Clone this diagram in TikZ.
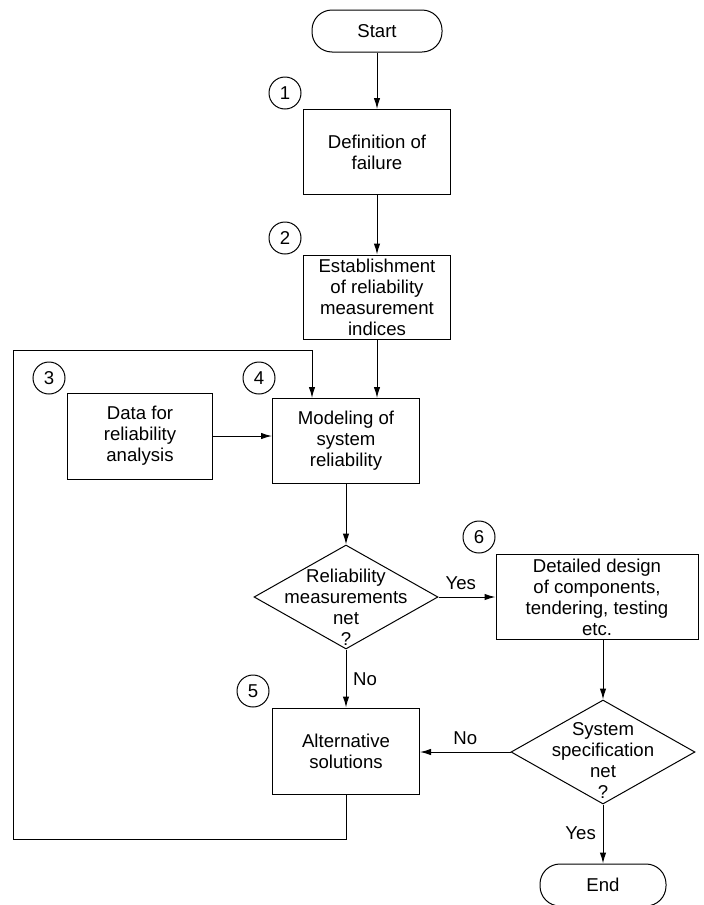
\documentclass[tikz,border=0pt]{standalone}
\usepackage{fontspec}
\setmainfont{Liberation Sans}
\usepackage{tikz}
\usetikzlibrary{arrows.meta,shapes.geometric}

\begin{document}
\begin{tikzpicture}[
  x=0.5pt, y=-0.5pt,
  every node/.style={font=\fontsize{9.3}{10.5}\selectfont},
  box/.style={draw, rectangle, minimum width=73.5pt, minimum height=42.5pt, inner sep=0pt, align=center, line width=0.5pt},
  term/.style={draw, rectangle, rounded corners=10pt, minimum height=21pt, inner sep=0pt, line width=0.5pt},
  decision/.style={draw, diamond, minimum width=92pt, minimum height=52pt, inner sep=0pt, line width=0.5pt},
  dtext/.style={align=center, inner sep=0pt},
  num/.style={draw, circle, minimum size=16pt, inner sep=0pt, line width=0.5pt},
  arrow/.style={-{Latex[length=5.5pt,width=3.2pt]}, line width=0.5pt}
]
\useasboundingbox (0,0) rectangle (703,905);
\node[term, minimum width=65pt] (start) at (377,31) {Start};
\node[box] (def) at (377,152) {Definition of\\failure};
\node[box, minimum height=42pt] (est) at (377,297) {Establishment\\of reliability\\measurement\\indices};
\node[box, minimum width=72.5pt, minimum height=43pt] (data) at (140,436) {Data for\\reliability\\analysis};
\node[box] (model) at (346,441) {Modeling of\\system\\reliability};
\node[decision] (d1) at (346,597) {};
\node[dtext] (d1t) at (346,607) {Reliability\\measurements\\net\\?};
\node[box, minimum width=101pt] (detail) at (597,597) {Detailed design\\of components,\\tendering, testing\\etc.};
\node[box, minimum height=43pt] (alt) at (346,751) {Alternative\\solutions};
\node[decision] (d2) at (603,752) {};
\node[dtext] (d2t) at (603,760) {System\\specification\\net\\?};
\node[term, minimum width=63pt] (end) at (603,885) {End};

\node[num] (n1) at (285,93) {1};
\node[num] (n2) at (285,238) {2};
\node[num] (n3) at (49,378) {3};
\node[num] (n4) at (259,378) {4};
\node[num] (n5) at (253,691) {5};
\node[num] (n6) at (479,537) {6};

\coordinate (loopB) at (346,839);
\coordinate (loopL) at (13,839);
\coordinate (loopT) at (13,350);

\draw[arrow] (start) -- (def);
\draw[arrow] (def) -- (est);
\draw[arrow] (est.south) -- (est.south |- model.north);
\draw[arrow] (data.east) -- (data.east -| model.west);
\draw[arrow] (model) -- (d1);
\draw[arrow] (d1.east) -- node[pos=0.39, above] {Yes} (d1.east -| detail.west);
\draw[arrow] (d1) -- node[pos=0.52, right] {No} (alt);
\draw[arrow] (d2.north |- detail.south) -- (d2.north);
\draw[arrow] (d2.west) -- node[pos=0.5, above] {No} (d2.west -| alt.east);
\draw[arrow] (d2) -- node[pos=0.48, left] {Yes} (end);
\draw[arrow] (alt.south) -- (loopB) -- (loopL) -- (loopT) -| ([xshift=20pt]model.north west);
\end{tikzpicture}
\end{document}
